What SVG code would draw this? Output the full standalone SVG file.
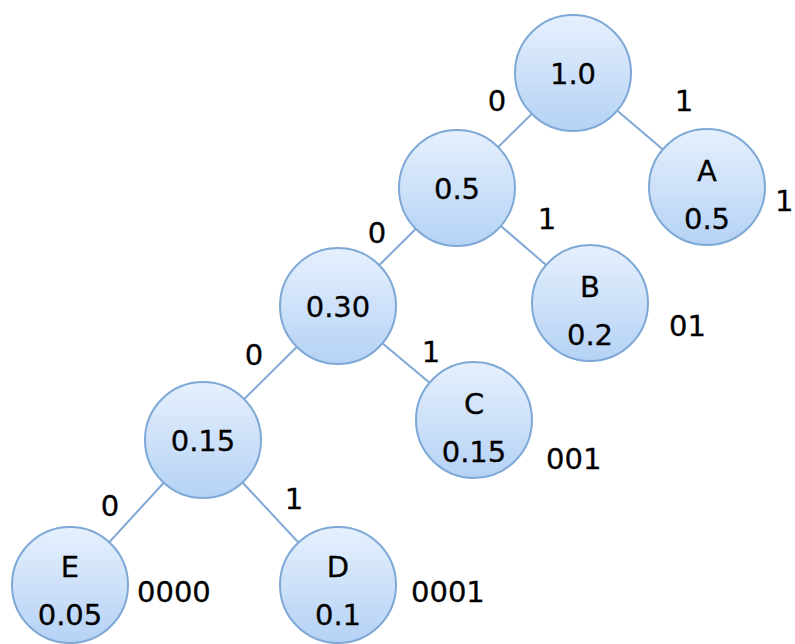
<svg xmlns="http://www.w3.org/2000/svg" width="795" height="644" viewBox="0 0 795 644">
<defs>
<linearGradient id="g" x1="0" y1="0" x2="0" y2="1">
<stop offset="0" stop-color="#e6f0fd"/>
<stop offset="1" stop-color="#b5d2f5"/>
</linearGradient>
</defs>
<style>
.n{fill:url(#g);stroke:#7ea8d6;stroke-width:2}
.e{stroke:#7ea8d6;stroke-width:2;fill:none}
text{font-family:"DejaVu Sans","Liberation Sans",sans-serif;font-size:29px;fill:#000;stroke:#000;stroke-width:0.3;text-anchor:middle}
.c{text-anchor:start}
</style>
<rect width="795" height="644" fill="#fff"/>
<g id="connectors">
<line class="e" x1="573" y1="73" x2="457" y2="188"/>
<line class="e" x1="573" y1="73" x2="707" y2="187"/>
<line class="e" x1="457" y1="188" x2="338" y2="306"/>
<line class="e" x1="457" y1="188" x2="590" y2="303"/>
<line class="e" x1="338" y1="306" x2="203" y2="440"/>
<line class="e" x1="338" y1="306" x2="474" y2="420"/>
<line class="e" x1="203" y1="440" x2="70" y2="585"/>
<line class="e" x1="203" y1="440" x2="338" y2="585"/>
</g>
<g id="edge-labels">
<text x="497" y="111">0</text>
<text x="684" y="111">1</text>
<text x="377" y="243">0</text>
<text x="547" y="229">1</text>
<text x="254" y="365">0</text>
<text x="431" y="362">1</text>
<text x="110" y="516">0</text>
<text x="294" y="509">1</text>
</g>
<g id="n-root"><circle class="n" cx="573" cy="73" r="58"/><text x="573" y="84">1.0</text></g>
<g id="n-05"><circle class="n" cx="457" cy="188" r="58"/><text x="457" y="199">0.5</text></g>
<g id="n-030"><circle class="n" cx="338" cy="306" r="58"/><text x="338" y="317">0.30</text></g>
<g id="n-015"><circle class="n" cx="203" cy="440" r="58"/><text x="203" y="451">0.15</text></g>
<g id="n-A"><circle class="n" cx="707" cy="187" r="58"/><text x="707" y="181">A</text><text x="707" y="229">0.5</text></g>
<g id="n-B"><circle class="n" cx="590" cy="303" r="58"/><text x="590" y="297">B</text><text x="590" y="345">0.2</text></g>
<g id="n-C"><circle class="n" cx="474" cy="420" r="58"/><text x="474" y="414">C</text><text x="474" y="462">0.15</text></g>
<g id="n-E"><circle class="n" cx="70" cy="585" r="58"/><text x="70" y="577">E</text><text x="70" y="625">0.05</text></g>
<g id="n-D"><circle class="n" cx="338" cy="585" r="58"/><text x="338" y="577">D</text><text x="338" y="625">0.1</text></g>
<g id="codes">
<text class="c" x="775" y="211">1</text>
<text class="c" x="669" y="336">01</text>
<text class="c" x="546" y="469">001</text>
<text class="c" x="137" y="602">0000</text>
<text class="c" x="411" y="602">0001</text>
</g>
</svg>
